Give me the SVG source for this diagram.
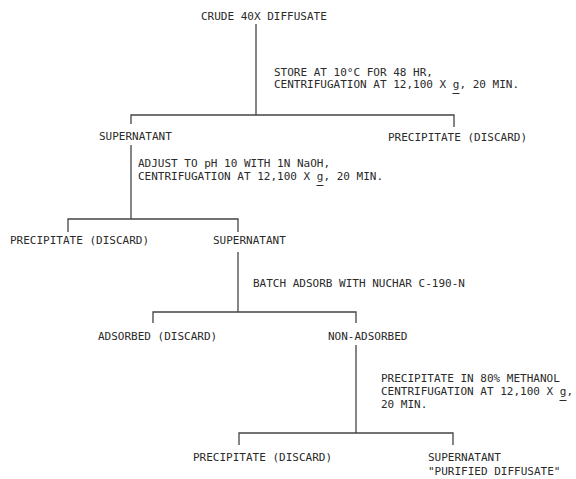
<svg xmlns="http://www.w3.org/2000/svg" width="576" height="479" viewBox="0 0 576 479">
<style>
text{font-family:"DejaVu Sans Mono","Liberation Mono",monospace;font-size:11px;fill:#2a2a2a}
.ul{fill:none;stroke:#2a2a2a;stroke-width:1}
#connectors path{fill:none;stroke:#444;stroke-width:1.3}
</style>
<rect width="576" height="479" fill="#fff"/>
<g id="connectors">
<path d="M256 24V115"/>
<path d="M131 124V115H454V127"/>
<path d="M131 145V219"/>
<path d="M68 232V219H238V232"/>
<path d="M238 252V312"/>
<path d="M153 323V312H356V323"/>
<path d="M356 345V433"/>
<path d="M239 445V433H453V445"/>
</g>
<g id="crude"><text x="201" y="20">CRUDE 40X DIFFUSATE</text></g>
<g id="step1"><text x="274" y="76">STORE AT 10°C FOR 48 HR,</text><text x="274" y="88">CENTRIFUGATION AT 12,100 X g, 20 MIN.</text><path class="ul" d="M452.5 93.5h7"/></g>
<g id="supernatant1"><text x="99" y="140">SUPERNATANT</text></g>
<g id="precipitate1"><text x="388" y="141">PRECIPITATE (DISCARD)</text></g>
<g id="step2"><text x="138" y="167">ADJUST TO pH 10 WITH 1N NaOH,</text><text x="138" y="180">CENTRIFUGATION AT 12,100 X g, 20 MIN.</text><path class="ul" d="M316.5 185.5h7"/></g>
<g id="precipitate2"><text x="10" y="244">PRECIPITATE (DISCARD)</text></g>
<g id="supernatant2"><text x="213" y="244">SUPERNATANT</text></g>
<g id="step3"><text x="253" y="287">BATCH ADSORB WITH NUCHAR C-190-N</text></g>
<g id="adsorbed"><text x="98" y="340">ADSORBED (DISCARD)</text></g>
<g id="nonadsorbed"><text x="328" y="340">NON-ADSORBED</text></g>
<g id="step4"><text x="381" y="382">PRECIPITATE IN 80% METHANOL</text><text x="381" y="395">CENTRIFUGATION AT 12,100 X g,</text><path class="ul" d="M559.5 400.5h7"/><text x="381" y="408">20 MIN.</text></g>
<g id="precipitate3"><text x="193" y="461">PRECIPITATE (DISCARD)</text></g>
<g id="purified"><text x="428" y="461">SUPERNATANT</text><text x="428" y="475">"PURIFIED DIFFUSATE"</text></g>
</svg>
